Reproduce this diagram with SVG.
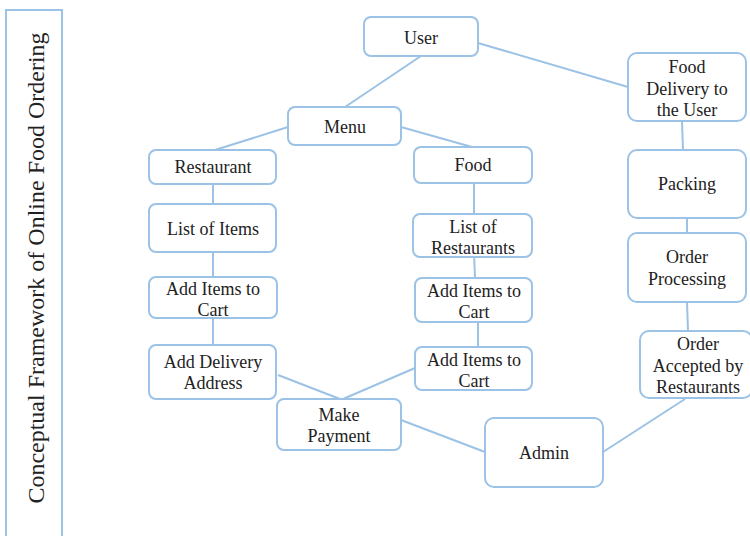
<svg xmlns="http://www.w3.org/2000/svg" width="750" height="536" viewBox="0 0 750 536">
<style>
.n{fill:#fff;stroke:#9cc2e5;stroke-width:2}
.c line{stroke:#9cc2e5;stroke-width:2}
text{font-family:"Liberation Serif","Times New Roman",serif;font-size:18px;fill:#222;text-anchor:middle}
</style>
<rect width="750" height="536" fill="#fff"/>
<g id="title">
<rect x="6" y="10" width="56" height="540" fill="#fff" stroke="#9cc2e5" stroke-width="2"/>
<text transform="translate(44,268) rotate(-90)" style="font-size:24px">Conceptual Framework of Online Food Ordering</text>
</g>
<g class="c" id="connectors">
<line x1="421" y1="56" x2="345" y2="107"/>
<line x1="288" y1="127" x2="215" y2="150"/>
<line x1="401" y1="127" x2="472" y2="147"/>
<line x1="478" y1="43" x2="628" y2="87"/>
<line x1="682" y1="121" x2="683" y2="150"/>
<line x1="687" y1="218" x2="687" y2="233"/>
<line x1="687" y1="302" x2="688" y2="331"/>
<line x1="685" y1="399" x2="603" y2="452"/>
<line x1="485" y1="452" x2="401" y2="420"/>
<line x1="278" y1="375" x2="340" y2="399"/>
<line x1="415" y1="368" x2="343" y2="399"/>
<line x1="213" y1="184" x2="213" y2="204"/>
<line x1="213" y1="252" x2="213" y2="277"/>
<line x1="213" y1="318" x2="213" y2="345"/>
<line x1="474" y1="183" x2="474" y2="214"/>
<line x1="474" y1="253" x2="475" y2="278"/>
<line x1="478" y1="322" x2="478" y2="347"/>
</g>
<g id="user"><rect class="n" x="364" y="17" width="114" height="39" rx="7"/><text x="421" y="44">User</text></g>
<g id="menu"><rect class="n" x="288" y="107" width="113" height="38" rx="7"/><text x="345" y="133">Menu</text></g>
<g id="restaurant"><rect class="n" x="149" y="150" width="127" height="34" rx="7"/><text x="213" y="173">Restaurant</text></g>
<g id="food"><rect class="n" x="414" y="147" width="118" height="36" rx="7"/><text x="473" y="171">Food</text></g>
<g id="delivery"><rect class="n" x="628" y="53" width="118" height="68" rx="9"/><text x="687" y="73">Food</text><text x="687" y="95">Delivery to</text><text x="687" y="116">the User</text></g>
<g id="packing"><rect class="n" x="628" y="150" width="118" height="68" rx="9"/><text x="687" y="190">Packing</text></g>
<g id="processing"><rect class="n" x="628" y="233" width="118" height="69" rx="9"/><text x="687" y="263">Order</text><text x="687" y="285">Processing</text></g>
<g id="accepted"><rect class="n" x="640" y="331" width="112" height="67" rx="9"/><text x="698" y="350">Order</text><text x="698" y="372">Accepted by</text><text x="698" y="393">Restaurants</text></g>
<g id="admin"><rect class="n" x="485" y="418" width="118" height="69" rx="9"/><text x="544" y="459">Admin</text></g>
<g id="list-items"><rect class="n" x="149" y="204" width="127" height="48" rx="7"/><text x="213" y="235">List of Items</text></g>
<g id="add-items-left"><rect class="n" x="149" y="277" width="128" height="41" rx="7"/><text x="213" y="295">Add Items to</text><text x="213" y="316">Cart</text></g>
<g id="delivery-address"><rect class="n" x="149" y="345" width="127" height="54" rx="7"/><text x="213" y="368">Add Delivery</text><text x="213" y="389">Address</text></g>
<g id="payment"><rect class="n" x="277" y="399" width="124" height="51" rx="7"/><text x="339" y="421">Make</text><text x="339" y="442">Payment</text></g>
<g id="list-restaurants"><rect class="n" x="413" y="214" width="119" height="43" rx="7"/><text x="473" y="233">List of</text><text x="473" y="254">Restaurants</text></g>
<g id="add-items-right1"><rect class="n" x="415" y="278" width="117" height="44" rx="7"/><text x="474" y="297">Add Items to</text><text x="474" y="318">Cart</text></g>
<g id="add-items-right2"><rect class="n" x="415" y="347" width="117" height="43" rx="7"/><text x="474" y="366">Add Items to</text><text x="474" y="387">Cart</text></g>
</svg>
